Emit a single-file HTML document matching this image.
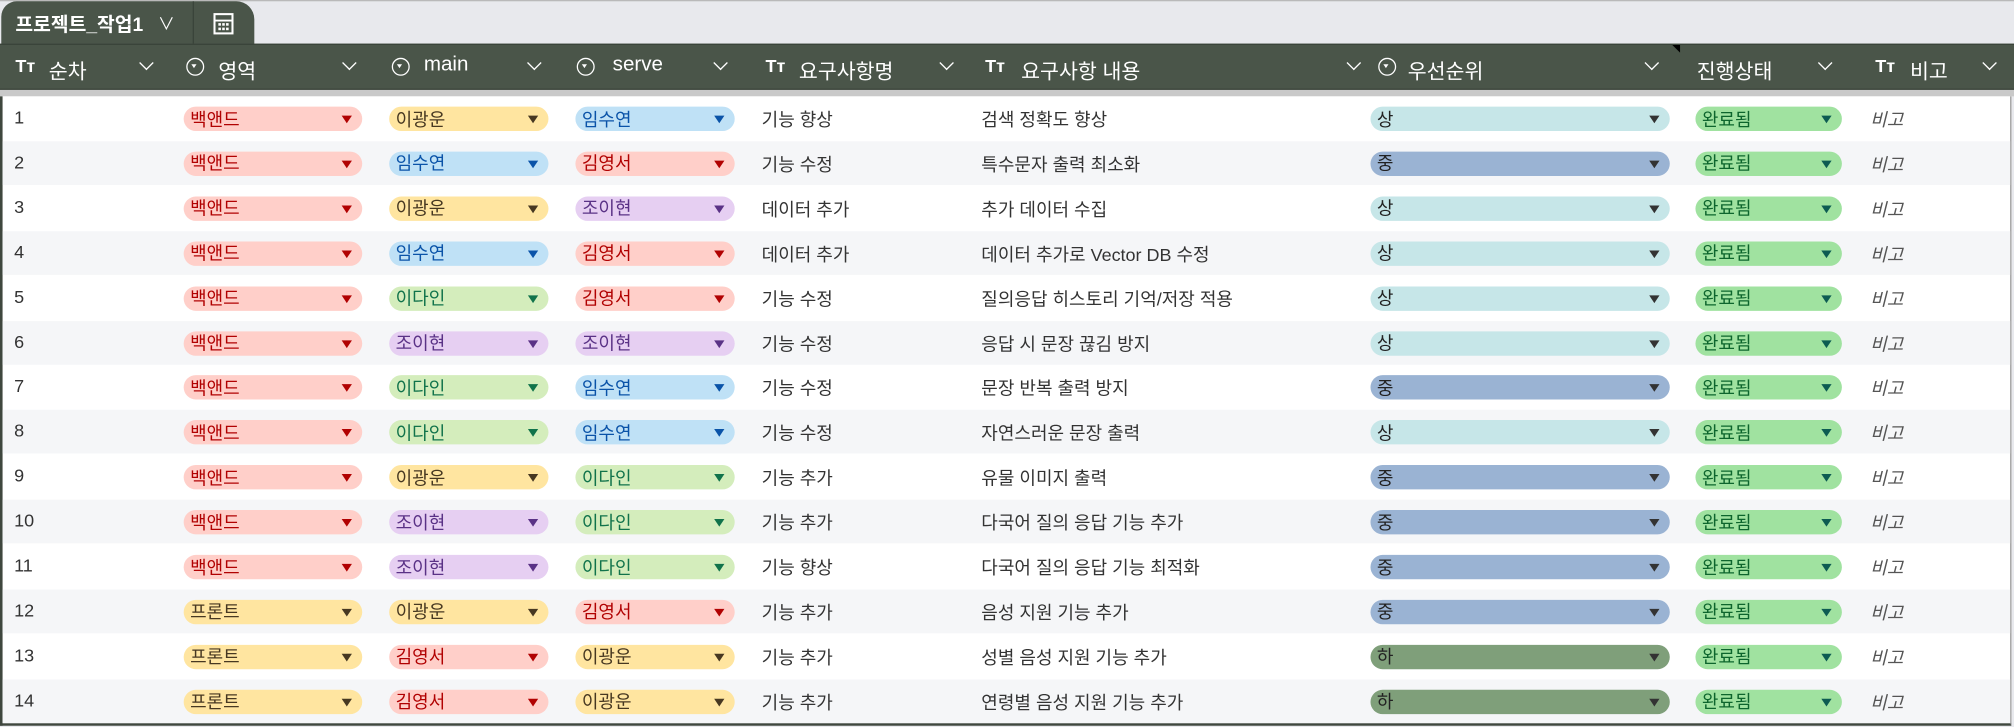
<!DOCTYPE html>
<html><head><meta charset="utf-8">
<style>
html,body{margin:0;padding:0;width:2014px;height:727px;overflow:hidden;background:#fff;}
#wrap{position:absolute;left:0;top:0;width:1568px;height:566px;transform:scale(1.28444,1.2845);transform-origin:0 0;font-family:"Liberation Sans","Noto Sans CJK KR",sans-serif;background:#e8e9ed;}
.abs{position:absolute;}
#topline{left:0;top:0;width:1568px;height:1px;background:#b9b9b9;}
#tab{left:1px;top:1px;width:197px;height:34px;background:#4a5549;border-radius:12px 14px 0 0;}
#tabtitle{left:12px;top:8px;color:#fff;font-size:15px;font-weight:bold;}
#tabchev{left:123px;top:8px;color:#fff;font-size:13px;}
#tabdiv{left:150px;top:1px;width:1px;height:33px;background:#3a4339;}
#header{left:0;top:34px;width:1568px;height:36px;background:#4a5549;border-top:1px solid #3a4339;border-bottom:1px solid #3a4339;box-sizing:border-box;}
.htext{position:absolute;top:7px;color:#fff;font-size:16px;white-space:nowrap;}
.hicon{position:absolute;top:8px;color:#fff;font-size:14px;font-weight:bold;}
.circ{position:absolute;top:10px;width:14px;height:14px;border:1.5px solid #fff;border-radius:50%;box-sizing:border-box;}
.circ:after{content:"";position:absolute;left:3px;top:4px;border-left:2.5px solid transparent;border-right:2.5px solid transparent;border-top:3px solid #fff;}
.chev{position:absolute;top:10px;width:7px;height:7px;border-right:1.6px solid #fff;border-bottom:1.6px solid #fff;transform:rotate(45deg);}
#grayline{left:0;top:70px;width:1568px;height:5px;background:#c9c9c9;}
#body{left:0;top:75px;width:1566px;height:490px;background:#fff;border-left:2px solid #3f473e;border-right:1px solid #9a9a9a;border-bottom:2px solid #3f473e;box-sizing:border-box;}
.row{position:absolute;left:0;width:100%;height:34px;}
.cell{position:absolute;top:8px;font-size:14px;color:#333;white-space:nowrap;}
.pill{position:absolute;top:8px;height:19px;border-radius:9.5px;font-size:14px;box-sizing:border-box;padding-left:5px;white-space:nowrap;display:flex;align-items:center;}
.tri{position:absolute;right:8px;top:7px;border-left:4.5px solid transparent;border-right:4.5px solid transparent;border-top:6px solid #333;}
#corner{left:1302px;top:35px;border-left:6px solid transparent;border-top:6px solid #000;width:0;height:0;}
</style></head><body>
<div id="wrap">
 <div class="abs" id="topline"></div>
 <div class="abs" id="tab"></div>
 <div class="abs" id="tabtitle">프로젝트_작업1</div>
 <div class="abs" id="tabchev">∨</div>
 <div class="abs" id="tabdiv"></div>
 <svg class="abs" style="left:165px;top:9px" width="18" height="19"><rect x="2" y="2" width="14" height="15" fill="none" stroke="#fff" stroke-width="1.6"/><line x1="2" y1="7" x2="16" y2="7" stroke="#fff" stroke-width="1.4"/><g fill="#fff"><rect x="5" y="9" width="2" height="2"/><rect x="8" y="9" width="2" height="2"/><rect x="11" y="9" width="2" height="2"/><rect x="5" y="12.5" width="2" height="2"/><rect x="8" y="12.5" width="2" height="2"/><rect x="11" y="12.5" width="2" height="2"/></g></svg>
 <div class="abs" id="header"></div>
 <div class="abs" id="corner"></div>
 <div class="abs" id="grayline"></div>
 <div class="abs" id="body"></div>
</div>
<script>
var headers=[["T","순차",12,38,110],["C","영역",145,170,268],["C","main",305,330,412],["C","serve",449,477,557],["T","요구사항명",596,622,733],["T","요구사항 내용",767,795,1050],["C","우선순위",1073,1096,1282],["N","진행상태",0,1321,1417],["T","비고",1460,1487,1545]];
var seq=[1,2,3,4,5,6,7,8,9,10,11,12,13,14];
var area=["백앤드","백앤드","백앤드","백앤드","백앤드","백앤드","백앤드","백앤드","백앤드","백앤드","백앤드","프론트","프론트","프론트"];
var mainP=["이광운","임수연","이광운","임수연","이다인","조이현","이다인","이다인","이광운","조이현","조이현","이광운","김영서","김영서"];
var serveP=["임수연","김영서","조이현","김영서","김영서","조이현","임수연","임수연","이다인","이다인","이다인","김영서","이광운","이광운"];
var reqName=["기능 향상","기능 수정","데이터 추가","데이터 추가","기능 수정","기능 수정","기능 수정","기능 수정","기능 추가","기능 추가","기능 향상","기능 추가","기능 추가","기능 추가"];
var reqDesc=["검색 정확도 향상","특수문자 출력 최소화","추가 데이터 수집","데이터 추가로  Vector DB 수정","질의응답 히스토리 기억/저장 적용","응답 시 문장 끊김 방지","문장 반복 출력 방지","자연스러운 문장 출력","유물 이미지 출력","다국어 질의 응답 기능 추가","다국어 질의 응답 기능 최적화","음성 지원 기능 추가","성별 음성 지원 기능 추가","연령별 음성 지원 기능 추가"];
var priority=["상","중","상","상","상","상","중","상","중","중","중","중","하","하"];
var statusVals=["완료됨","완료됨","완료됨","완료됨","완료됨","완료됨","완료됨","완료됨","완료됨","완료됨","완료됨","완료됨","완료됨","완료됨"];
var colors={"백앤드":["#ffcfc9","#b10202","#b10202"],"프론트":["#ffe5a0","#473821","#473821"],"이광운":["#ffe5a0","#473821","#473821"],"임수연":["#bfe1f6","#0a53a8","#0a53a8"],"김영서":["#ffcfc9","#b10202","#b10202"],"조이현":["#e6cff2","#5a3286","#5a3286"],"이다인":["#d4edbc","#11734b","#11734b"],"상":["#c6e6e8","#222","#333"],"중":["#9ab3d3","#222","#333"],"하":["#7f9f7a","#222","#333"],"완료됨":["#a0e2a0","#0d652d","#0d5c52"]};
var hdr=document.getElementById('header');
headers.forEach(function(h,i){
  if(h[0]==="T"){var t=document.createElement('div');t.className='hicon';t.style.left=h[2]+'px';t.textContent='Tт';
    
    
    hdr.appendChild(t);}
  if(h[0]==="C"){var c=document.createElement('div');c.className='circ';c.style.left=h[2]+'px';
    
    
    hdr.appendChild(c);}
  var tx=document.createElement('div');tx.className='htext';tx.style.left=h[3]+'px';tx.textContent=h[1];
  
  
  hdr.appendChild(tx);
  var ch=document.createElement('div');ch.className='chev';ch.style.left=h[4]+'px';
  
  
  hdr.appendChild(ch);
});
var tbody=document.getElementById('body');
function pill(row,txt,x,w,name){
  var p=document.createElement('div');p.className='pill';p.style.left=x+'px';p.style.width=w+'px';
  var c=colors[txt]||["#eee","#333","#333"];p.style.background=c[0];p.style.color=c[1];p.textContent=txt;
  
  
  var t=document.createElement('div');t.className='tri';t.style.borderTopColor=c[2];
  
  
  p.appendChild(t);row.appendChild(p);
}
function cell(row,txt,x,name,italic){
  var d=document.createElement('div');d.className='cell';d.style.left=x+'px';d.textContent=txt;
  if(italic){d.style.fontStyle='italic';d.style.color='#555';}
  
  
  row.appendChild(d);
}
seq.forEach(function(s,i){
  var r=document.createElement('div');r.className='row';r.style.top=(i*34.9)+'px';
  if(i%2===1)r.style.background='#f5f6f8';
  
  
  cell(r,String(s),9,'row-number');
  pill(r,area[i],141,139,'area-chip');
  pill(r,mainP[i],301,124,'main-owner-chip');
  pill(r,serveP[i],446,124,'serve-owner-chip');
  cell(r,reqName[i],591,'requirement-name');
  cell(r,reqDesc[i],762,'requirement-description');
  pill(r,priority[i],1065,233,'priority-chip');
  pill(r,statusVals[i],1318,114,'status-chip');
  cell(r,'비고',1454,'note-cell',true);
  tbody.appendChild(r);
});
</script>
</body></html>
